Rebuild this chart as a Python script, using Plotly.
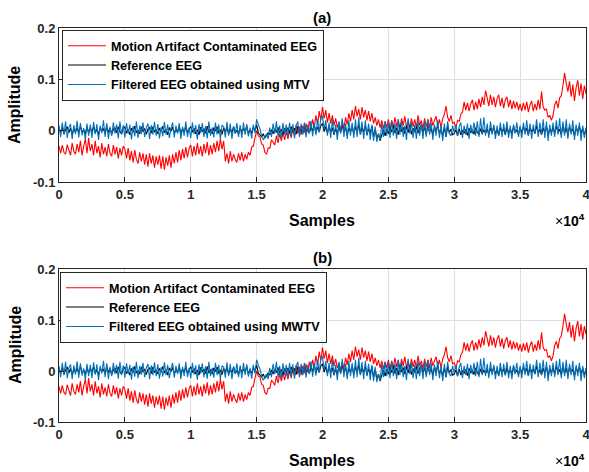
import plotly.graph_objects as go

# ---------------- data, amplitudes in units of 1e-3 ----------------
sample_max = 40000

contaminated_milli = [
    -30, -44, -28, -42, -46, -27, -38, -48, -24, -40, -46, -26, -42, -20, -48, -30, -16, -44, -14, -40,
    -26, -48, -20, -44, -30, -52, -24, -46, -32, -50, -26, -44, -50, -28, -46, -32, -54, -34, -48, -30,
    -36, -54, -34, -58, -40, -62, -38, -56, -64, -42, -60, -44, -66, -46, -70, -44, -64, -48, -72, -50,
    -66, -48, -74, -50, -76, -52, -68, -48, -72, -46, -64, -42, -62, -38, -58, -36, -54, -32, -52, -34,
    -28, -50, -30, -48, -24, -46, -30, -50, -26, -44, -22, -48, -28, -46, -24, -42, -20, -40, -16, -36,
    -20, -60, -44, -64, -40, -60, -46, -56, -62, -44, -58, -42, -60, -46, -56, -42, -48, -32, -30, -14,
    0, -10, -12, -26, -28, -42, -46, -34, -34, -18, -22, -28, -10, -24, -6, -20, -4, -18, -2, -16,
    0, -14, 6, -10, 12, -6, 8, -8, 10, -4, 14, -2, 18, 2, 22, 6, 30, 12, 38, 20,
    46, 24, 40, 16, 34, 14, 30, 10, 24, 6, 16, 2, 18, 4, 26, 12, 34, 18, 40, 22,
    48, 28, 42, 22, 46, 26, 40, 20, 38, 18, 34, 14, 26, 10, 22, 6, 20, 4, 18, 6,
    22, 4, 20, 6, 26, 8, 22, 2, 24, 10, 28, 6, 20, 4, 24, 8, 22, 6, 30, 10,
    20, 4, 24, 8, 22, 6, 26, 10, 20, 28, 8, 22, 6, 24, 32, 48, 26, 18, 30, 14,
    16, 4, 20, 18, 32, 36, 56, 40, 54, 38, 52, 60, 40, 56, 42, 62, 46, 66, 50, 78,
    64, 48, 70, 50, 66, 46, 62, 70, 48, 64, 44, 60, 66, 46, 60, 42, 58, 44, 56, 40,
    52, 38, 54, 40, 56, 36, 50, 58, 38, 52, 40, 60, 42, 76, 46, 40, 42, 26, 30, 20,
    30, 50, 58, 44, 64, 68, 88, 112, 92, 76, 96, 66, 90, 58, 84, 98, 68, 92, 62, 88,
    72,
]

reference_milli = [
    4, -3, 7, -6, 2, 8, -4, 5, -7, 3, -2, 6, -5, 9, -3, 1, -6, 7, -4, 5,
    -2, 8, -5, 3, -8, 6, -1, 4, -6, 9, -3, 5, -7, 2, 6, -4, 8, -2, -6, 4,
    7, -5, 2, -8, 5, -3, 9, -4, 1, -6, 8, -2, 4, -7, 3, 6, -5, 8, -3, 2,
    -6, 5, -2, 9, -4, 3, -8, 6, -1, 7, -5, 2, -3, 8, -6, 4, -2, 7, -4, 3,
    8, -3, 5, -6, 2, -8, 7, -2, 4, -5, 9, -4, 3, -6, 6, -1, 8, -5, 2, -7,
    5, -2, 7, -6, 3, -4, 8, -5, 1, -7, 6, -3, 4, -2, 9, -6, 3, -5, 7, -1,
    12, -4, -8, -12, -6, -14, -10, -4, -8, 2, -6, 4, -3, 7, -5, 3, -7, 5, -2, 6,
    -4, 8, -3, 5, -7, 9, -2, 4, -6, 10, -3, 6, -5, 8, -1, 12, -4, 7, -2, 10,
    14, -2, 8, -5, 10, -3, 6, -8, 4, -6, 9, -4, 12, -3, 7, -9, 5, -2, 10, -6,
    8, -4, 12, -7, 6, -2, 10, -8, 4, -5, 9, -12, 3, -16, -6, -20, -8, 2, -10, 4,
    -6, 8, -3, 10, -5, 6, -8, 12, -2, 7, -6, 9, -4, 11, -7, 5, -3, 8, -5, 6,
    10, -4, 7, -8, 12, -3, 5, -9, 8, -2, 11, -6, 4, -10, 6, -12, 9, -4, 3, -8,
    -6, 2, -10, 4, -8, 1, -5, 3, -9, 5, -4, 2, -7, 6, -3, -8, 4, -6, 2, -5,
    3, -7, 5, -4, 8, -6, 2, -9, 6, -3, 4, -8, 7, -5, 3, -6, 9, -4, 2, -7,
    6, -4, 8, -3, 5, -9, 7, -2, 4, -6, 10, -5, 3, -8, 6, -4, 9, -10, 5, -3,
    7, -6, 10, -4, 3, -8, 12, -5, 6, -9, 8, -3, 4, -10, 7, -2, 9, -6, 5, -8,
    3,
]

filtered_mtv_milli = [
    10, -12, 16, -8, 18, -14, 6, 13, -16, 11, -7, 19, -13, 15, -9, 5, -17, 14, -10, 12,
    -14, 17, -7, 13, -18, 10, -5, 20, -12, 15, -16, 8, -10, 16, -6, 12, -15, 18, -8, 11,
    -13, 15, -6, 12, -17, 9, -11, 18, -14, 10, -7, 16, -12, 6, 14, -16, 11, -8, 17, -10,
    13, -15, 7, -11, 17, -8, 12, -14, 5, 16, -13, 10, -6, 15, -16, 8, -10, 18, -12, 6,
    -14, 16, -7, 11, -17, 13, -5, 15, -12, 9, -15, 18, -10, 6, -13, 16, -8, 12, -16, 10,
    8, -13, 17, -10, 14, -16, 9, -6, 15, -12, 11, -14, 16, -8, 13, -11, 6, -15, 12, -5,
    22, 12, 4, -10, -18, -12, -6, -16, 6, -12, 14, -6, 18, -13, 10, -16, 15, -8, 12, -14,
    16, -10, 13, -15, 9, 18, -12, 14, -8, 16, -13, 11, -6, 19, -11, 15, -9, 22, -4, 26,
    28, 2, 20, -10, 16, -14, 22, -8, 12, -18, 18, -6, 24, -12, 14, -16, 20, -10, 16, -14,
    22, -12, 26, -8, 18, -16, 20, -10, 14, -18, 12, -20, 8, -22, -6, -18, 14, -12, 18, -10,
    16, -14, 20, -10, 14, -16, 22, -8, 18, -12, 10, -18, 24, -6, 16, -14, 12, -16, 20, -10,
    14, -16, 18, -12, 22, -8, 16, -18, 12, -10, 20, -14, 10, -20, 14, -12, 18, -6, -10, 10,
    -4, 12, -10, 8, 16, -14, 10, -8, 14, -16, 12, -6, 16, -10, 18, -12, 24, -8, 26, -10,
    14, -14, 18, -8, 12, -16, 10, -10, 16, -12, 14, -8, 18, -14, 10, -16, 12, -6, 16, -12,
    10, -14, 16, -8, 20, -10, 14, -16, 12, -6, 22, -12, 16, -8, 22, -14, 18, -20, 12, -10,
    16, -12, 20, -8, 24, -14, 18, -10, 22, -16, 14, -8, 20, -18, 12, -10, 16, -20, 10, -14,
    6,
]
filtered_mwtv_milli = list(filtered_mtv_milli)

x_tick_values = [0, 5000, 10000, 15000, 20000, 25000, 30000, 35000, 40000]
x_tick_labels = ["0", "0.5", "1", "1.5", "2", "2.5", "3", "3.5", "4"]
y_tick_values = [-0.1, 0, 0.1, 0.2]
y_tick_labels = ["-0.1", "0", "0.1", "0.2"]

series_names_a = ["Motion Artifact Contaminated EEG", "Reference EEG",
                  "Filtered EEG obtained using MTV"]
series_names_b = ["Motion Artifact Contaminated EEG", "Reference EEG",
                  "Filtered EEG obtained using MWTV"]
colors = ["#ff0000", "#000000", "#0072BD"]


def to_amp(vals):
    return [v / 1000 for v in vals]


def sample_axis(vals):
    n = len(vals)
    return [i * sample_max / (n - 1) for i in range(n)]


# ---------------- figure ----------------
W, H = 589, 472
L, R = 59, 3
FONT = "Liberation Sans, Arial, sans-serif"
AX = "#262626"

fig = go.Figure()

panel_data = [
    (contaminated_milli, reference_milli, filtered_mtv_milli, series_names_a, "x", "y", "legend"),
    (contaminated_milli, reference_milli, filtered_mwtv_milli, series_names_b, "x2", "y2", "legend2"),
]
for red, blk, blu, names, xa, ya, lg in panel_data:
    for vals, name, col in zip([red, blk, blu], names, colors):
        fig.add_trace(go.Scatter(
            x=sample_axis(vals), y=to_amp(vals), mode="lines", name=name,
            line=dict(color=col, width=1.1, simplify=False),
            xaxis=xa, yaxis=ya, legend=lg, hoverinfo="skip",
        ))


def ypx(p):
    return (H - p) / H


def xpx(p):
    return (p - L) / (W - L - R)


axis_common = dict(
    showline=True, linecolor=AX, linewidth=1, mirror=True,
    ticks="inside", ticklen=5, tickcolor=AX, tickwidth=1,
    showgrid=True, gridcolor="#dedede", gridwidth=1, zeroline=False,
    automargin=False, ticklabeloverflow="allow",
    tickfont=dict(family=FONT, size=13, color=AX, weight="bold"),
)

top_dom = [ypx(182), ypx(28)]
bot_dom = [ypx(422), ypx(269)]

legend_common = dict(xanchor="left", yanchor="top", bgcolor="white",
                     bordercolor=AX, borderwidth=1, tracegroupgap=0, itemwidth=38,
                     font=dict(family=FONT, size=12.6, color="#000000", weight="bold"))

fig.update_layout(
    width=W, height=H, autosize=False,
    margin=dict(l=L, r=R, t=0, b=0, pad=0),
    paper_bgcolor="white", plot_bgcolor="white",
    font=dict(family=FONT, color=AX),
    xaxis=dict(domain=[0, 1], range=[0, sample_max], tickvals=x_tick_values,
               ticktext=x_tick_labels, anchor="y", **axis_common),
    yaxis=dict(domain=top_dom, range=[-0.1, 0.2], tickvals=y_tick_values,
               ticktext=y_tick_labels, anchor="x", **axis_common),
    xaxis2=dict(domain=[0, 1], range=[0, sample_max], tickvals=x_tick_values,
                ticktext=x_tick_labels, anchor="y2", **axis_common),
    yaxis2=dict(domain=bot_dom, range=[-0.1, 0.2], tickvals=y_tick_values,
                ticktext=y_tick_labels, anchor="x2", **axis_common),
    legend=dict(x=xpx(62), y=ypx(30), **legend_common),
    legend2=dict(x=xpx(60), y=ypx(272), **legend_common),
    showlegend=True,
)

ann_font = dict(family=FONT, color="#000000")
annotations = []
for label, ycen in [("(a)", 17), ("(b)", 257)]:
    annotations.append(dict(text=f"<b>{label}</b>", x=xpx(322), y=ypx(ycen),
                            xref="paper", yref="paper", showarrow=False,
                            xanchor="center", yanchor="middle",
                            font=dict(size=15, **ann_font)))
for ycen in [220, 460]:
    annotations.append(dict(text="<b>Samples</b>", x=xpx(322), y=ypx(ycen),
                            xref="paper", yref="paper", showarrow=False,
                            xanchor="center", yanchor="middle",
                            font=dict(size=16, **ann_font)))
    annotations.append(dict(text="×<b>10<sup>4</sup></b>", x=xpx(587), y=ypx(ycen),
                            xref="paper", yref="paper", showarrow=False,
                            xanchor="right", yanchor="middle",
                            font=dict(size=14, **ann_font)))
for ycen in [105, 345]:
    annotations.append(dict(text="<b>Amplitude</b>", x=xpx(15), y=ypx(ycen),
                            xref="paper", yref="paper", showarrow=False,
                            xanchor="center", yanchor="middle", textangle=-90,
                            font=dict(size=16, **ann_font)))
fig.update_layout(annotations=annotations)

fig.write_html(
    "out.html",
    config={"displayModeBar": False, "staticPlot": True},
    post_script="document.body.style.margin='0';document.body.style.padding='0';"
                "document.body.style.overflow='hidden';",
)
